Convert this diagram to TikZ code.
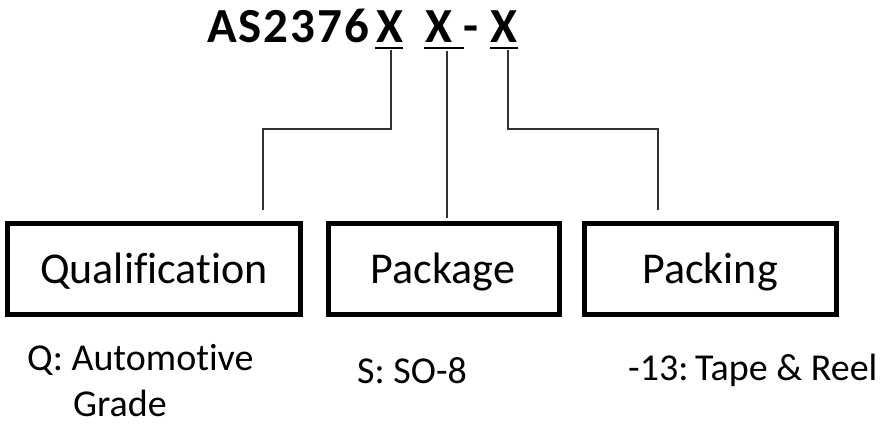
\documentclass[tikz,border=0pt]{standalone}
\usepackage{fontspec}
\setmainfont{Carlito}[Ligatures={NoCommon}]
\newfontfamily\titlefont{Carlito}[Ligatures={NoCommon},LetterSpace=4]
\begin{document}
\begin{tikzpicture}[x=1pt,y=-1pt,
  titletxt/.style={inner sep=0pt,font=\titlefont\fontsize{49}{50}\selectfont\bfseries},
  boxtxt/.style={inner sep=0pt,font=\fontsize{44}{46}\selectfont},
  notetxt/.style={inner sep=0pt,font=\fontsize{38}{40}\selectfont},
  codebox/.style={draw=black,line width=5pt,inner sep=0pt},
  uline/.style={line width=2.2pt,black},
  conn/.style={line width=1.6pt,draw={rgb,255:red,50;green,50;blue,50}}]
\useasboundingbox (0,0) rectangle (890,424);
% title
\node[titletxt,anchor=base west] (base) at (207,42) {AS2376};
\node[titletxt,anchor=base] (x1) at (390,42) {X};
\node[titletxt,anchor=base] (x2) at (439,42) {X};
\node[titletxt,anchor=base] (dash) at (471,42) {-};
\node[titletxt,anchor=base] (x3) at (504,42) {X};
\coordinate (u1a) at (375,48); \coordinate (u1b) at (403,48);
\coordinate (u2a) at (424,48); \coordinate (u2b) at (464,48);
\coordinate (u3a) at (490,48); \coordinate (u3b) at (518,48);
\draw[uline] (u1a) -- (u1b);
\draw[uline] (u2a) -- (u2b);
\draw[uline] (u3a) -- (u3b);
% boxes
\node[codebox,minimum width=293pt,minimum height=91pt] (b1) at (153.5,268.5) {};
\node[codebox,minimum width=231pt,minimum height=91pt] (b2) at (443.5,268.5) {};
\node[codebox,minimum width=252pt,minimum height=91pt] (b3) at (710,268.5) {};
\node[boxtxt,anchor=base] (t1) at (154,283) {Qualification};
\node[boxtxt,anchor=base] (t2) at (443,283) {Package};
\node[boxtxt,anchor=base] (t3) at (710,283) {Packing};
% connectors
\coordinate (c1s) at (391,50); \coordinate (c1e) at (263,210);
\coordinate (c2s) at (447,51); \coordinate (c2e) at (447,218);
\coordinate (c3s) at (508,50); \coordinate (c3e) at (658,210);
\draw[conn] (c1s) -- (391,129) -- (263,129) -- (c1e);
\draw[conn] (c2s) -- (c2e);
\draw[conn] (c3s) -- (508,129) -- (658,129) -- (c3e);
% notes
\node[notetxt,anchor=base west] (n1a) at (27,370) {Q: Automotive};
\node[notetxt,anchor=base west] (n1b) at (73,416) {Grade};
\node[notetxt,anchor=base west] (n2) at (357,383) {S: SO-8};
\node[notetxt,anchor=base west] (n3) at (628,380) {-13:\kern-2pt\ Tape \& Reel};
\end{tikzpicture}
\end{document}
